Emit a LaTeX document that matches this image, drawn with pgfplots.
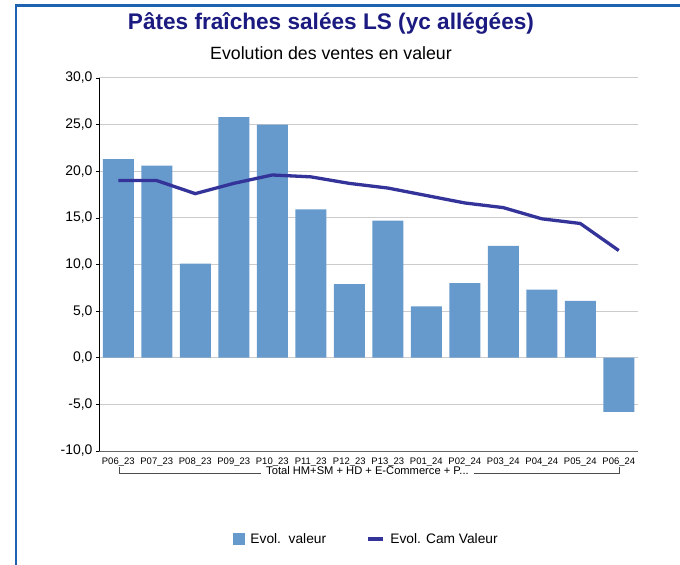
\documentclass[border=0pt]{standalone}
\usepackage{pgfplots}
\pgfplotsset{compat=1.18}
\usepackage{fontspec}
\setmainfont{Liberation Sans}
\definecolor{barblue}{HTML}{6699CC}
\definecolor{linenavy}{HTML}{333399}
\definecolor{titlenavy}{HTML}{1A1A80}
\definecolor{framblue}{HTML}{1F62B0}
\begin{document}
\begin{tikzpicture}
\path[use as bounding box] (0bp,0bp) rectangle (680bp,565bp);
\draw[framblue, line width=2.5bp] (16bp,0bp) -- (16bp,559.5bp) -- (680bp,559.5bp);
\node[font=\fontsize{22.7}{26}\selectfont\bfseries, text=titlenavy] at (331bp,542bp) {Pâtes fraîches salées LS (yc allégées)};
\node[font=\fontsize{17.8}{21}\selectfont] at (331bp,512bp) {Evolution des ventes en valeur};
\begin{axis}[
  at={(99bp,114bp)}, anchor=south west,
  scale only axis, width=539bp, height=373bp,
  clip=false,
  ymin=-10, ymax=30, ytick={-10,-5,...,30},
  xmin=-0.5, xmax=13.5,
  xtick={0,...,13},
  xticklabels={P06\_23,P07\_23,P08\_23,P09\_23,P10\_23,P11\_23,P12\_23,P13\_23,P01\_24,P02\_24,P03\_24,P04\_24,P05\_24,P06\_24},
  xticklabel style={font=\fontsize{9.5}{11}\selectfont, yshift=0bp},
  yticklabel style={font=\fontsize{14}{16}\selectfont},
  /pgf/number format/.cd, fixed, fixed zerofill, precision=1, use comma, assume math mode=true,
  /pgfplots/.cd,
  axis x line*=bottom, axis y line*=left,
  x axis line style={draw=gray!80!black, line width=1bp},
  y axis line style={draw=black, line width=0.8bp},
  xtick style={draw=none},
  ytick style={draw=black, line width=0.6bp},
  tick align=outside, major tick length=3bp,
  ymajorgrids, grid style={draw=gray!40, line width=1bp},
  legend columns=2,
  legend style={at={(0.4955,-0.236)}, anchor=center, draw=none, fill=none,
    font=\fontsize{13.8}{15}\selectfont, column sep=4bp},
  legend cell align=left,
]
\addplot[ybar, bar width=31bp, fill=barblue, draw=none,
  legend image code/.code={\fill[barblue] (0bp,-6bp) rectangle (12bp,6bp);}]
  coordinates {(0,21.3) (1,20.6) (2,10.1) (3,25.8) (4,25.0) (5,15.9) (6,7.9) (7,14.7) (8,5.5) (9,8.0) (10,12.0) (11,7.3) (12,6.1) (13,-5.8)};
\addlegendentry{Evol.\ \ valeur\rule{34bp}{0pt}}
\addplot[sharp plot, linenavy, line width=3.3bp, mark=none,
  legend image code/.code={\draw[linenavy, line width=3.3bp] (0bp,0bp) -- (15bp,0bp);}]
  coordinates {(0,19.0) (1,19.0) (2,17.6) (3,18.7) (4,19.6) (5,19.4) (6,18.7) (7,18.2) (8,17.4) (9,16.6) (10,16.1) (11,14.9) (12,14.4) (13,11.5)};
\addlegendentry{Evol. Cam Valeur}
\draw[gray!60!black, line width=0.8bp] ([xshift=1bp,yshift=-16bp]axis cs:0,-10) -- ++(0bp,-6bp) -- ++(142bp,0bp);
\draw[gray!60!black, line width=0.8bp] ([xshift=1bp,yshift=-16bp]axis cs:13,-10) -- ++(0bp,-6bp) -- ++(-146bp,0bp);
\node[font=\fontsize{11.2}{13}\selectfont, inner sep=0bp, anchor=base] at ([xshift=-1bp,yshift=-23.5bp]axis cs:6.5,-10) {Total HM+SM + HD + E-Commerce + P...};
\end{axis}
\end{tikzpicture}
\end{document}
